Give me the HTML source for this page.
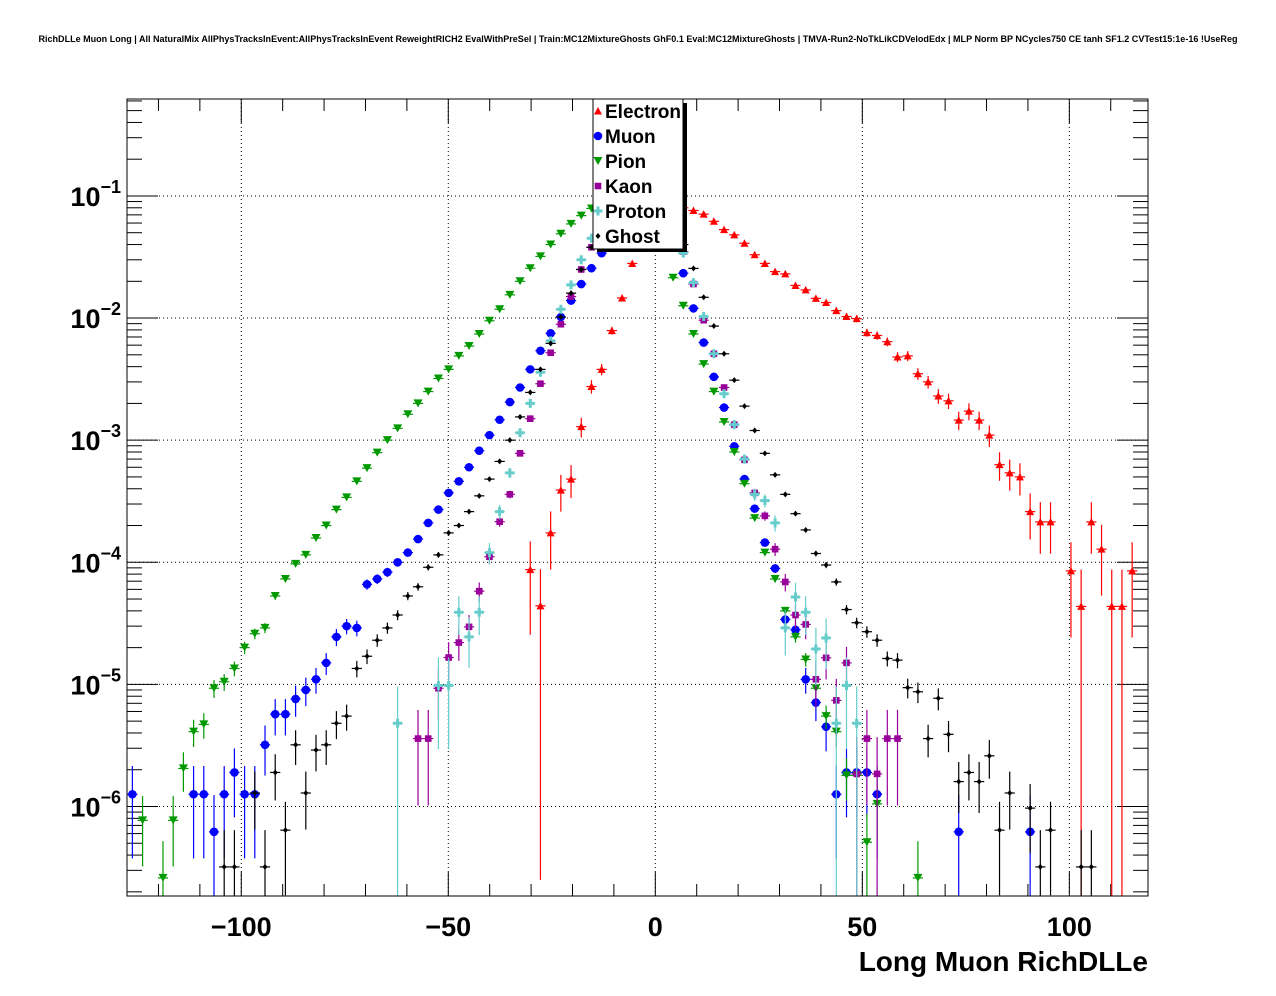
<!DOCTYPE html>
<html><head><meta charset="utf-8"><style>
html,body{margin:0;padding:0;background:#fff;}
svg{display:block;font-family:"Liberation Sans",Arial,sans-serif;}
</style></head><body>
<svg id="chart" width="1276" height="996" viewBox="0 0 1276 996" xmlns="http://www.w3.org/2000/svg">
<rect x="0" y="0" width="1276" height="996" fill="#fff"/>
<text x="638" y="42" text-anchor="middle" font-size="9" font-weight="bold" textLength="1199" lengthAdjust="spacingAndGlyphs">RichDLLe Muon Long | All NaturalMix AllPhysTracksInEvent:AllPhysTracksInEvent ReweightRICH2 EvalWithPreSel | Train:MC12MixtureGhosts GhF0.1 Eval:MC12MixtureGhosts | TMVA-Run2-NoTkLikCDVelodEdx | MLP Norm BP NCycles750 CE tanh SF1.2 CVTest15:1e-16 !UseReg</text>
<defs><clipPath id="plotclip"><rect x="127" y="99" width="1021" height="797"/></clipPath></defs>
<g id="grid"></g>
<g id="ticks"></g>
<g id="series" clip-path="url(#plotclip)"></g>
<rect x="127" y="99" width="1021" height="797" fill="none" stroke="#000" stroke-width="1"/>
<g id="labels"></g>
<text x="1148" y="971" text-anchor="end" font-size="28" font-weight="bold">Long Muon RichDLLe</text>
<g id="legend"></g>
</svg>
<script>
// ---- data ----
const xTickValues = [-100, -50, 0, 50, 100];
const xTickLabels = ["\u2212100", "\u221250", "0", "50", "100"];
const yDecades = [-1, -2, -3, -4, -5, -6];
const yTickLabels = ["\u22121", "\u22122", "\u22123", "\u22124", "\u22125", "\u22126"];
const seriesNames = ["Electron", "Muon", "Pion", "Kaon", "Proton", "Ghost"];
const seriesStartBins = [39, 0, 1, 28, 26, 9];
const seriesUnitWeights = [4.35e-5, 6.2e-7, 2.6e-7, 1.85e-6, 4.8e-6, 3.2e-7];
const electronValues = [8.7e-5,4.4e-5,1.74e-4,3.9e-4,4.8e-4,1.29e-3,2.75e-3,3.8e-3,7.9e-3,0.0146,0.028,0.06,0.09,0.1,0.09,0.08,0.076,0.071,0.062,0.053,0.048,0.041,0.033,0.028,0.024,0.023,0.0185,0.017,0.0145,0.0134,0.0115,0.0103,0.0099,0.0076,0.0072,0.0064,0.0048,0.0049,0.0035,0.003,0.0023,0.0021,0.00146,0.00173,0.00146,0.0011,6.3e-4,5.4e-4,5e-4,2.6e-4,2.14e-4,2.14e-4,null,8.5e-5,4.35e-5,2.14e-4,1.28e-4,4.35e-5,4.35e-5,8.5e-5];
const muonValues = [1.26e-6,null,null,null,null,null,1.26e-6,1.26e-6,6.2e-7,1.26e-6,1.9e-6,1.26e-6,1.26e-6,3.2e-6,5.7e-6,5.7e-6,7.6e-6,9.0e-6,1.1e-5,1.5e-5,2.45e-5,3.0e-5,2.9e-5,6.6e-5,7.3e-5,8.3e-5,1.0e-4,1.2e-4,1.55e-4,2.1e-4,2.7e-4,3.7e-4,4.6e-4,6.0e-4,8.2e-4,1.1e-3,1.47e-3,2.05e-3,2.7e-3,3.8e-3,5.4e-3,7.5e-3,0.0102,0.0139,0.019,0.0256,0.034,0.045,0.055,0.062,0.065,0.062,0.055,0.045,0.0233,0.012,0.0063,0.0033,0.00185,8.9e-4,4.8e-4,2.75e-4,1.45e-4,8.9e-5,3.4e-5,2.8e-5,1.1e-5,7.1e-6,4.5e-6,1.26e-6,1.9e-6,1.9e-6,1.9e-6,1.26e-6,null,null,null,null,null,null,null,6.2e-7,null,null,null,null,null,null,6.2e-7];
const pionValues = [7.7e-7,null,2.6e-7,7.7e-7,2.05e-6,4.1e-6,4.7e-6,9.3e-6,1.05e-5,1.35e-5,2.0e-5,2.6e-5,2.9e-5,5.3e-5,7.3e-5,9.7e-5,1.15e-4,1.58e-4,2.0e-4,2.7e-4,3.4e-4,4.6e-4,5.9e-4,7.9e-4,1.0e-3,1.25e-3,1.63e-3,2.0e-3,2.5e-3,3.2e-3,3.8e-3,4.9e-3,5.9e-3,7.4e-3,9.5e-3,0.0118,0.0155,0.020,0.0256,0.032,0.040,0.049,0.059,0.069,0.079,0.09,0.1,0.11,0.11,0.1,0.08,0.05,0.0214,0.0126,0.0074,0.0042,0.0025,0.00141,8.0e-4,4.4e-4,2.3e-4,1.2e-4,7.3e-5,4.0e-5,2.45e-5,1.6e-5,9.3e-6,5.5e-6,4.1e-6,1.8e-6,1.8e-6,5.1e-7,1.05e-6,null,null,null,2.6e-7];
const kaonValues = [3.6e-6,3.6e-6,9.3e-6,1.66e-5,2.2e-5,2.96e-5,5.8e-5,1.11e-4,2.15e-4,3.6e-4,7.8e-4,1.5e-3,2.9e-3,5.2e-3,8.9e-3,0.015,0.025,0.038,0.05,0.06,0.065,0.07,0.07,0.065,0.055,0.045,0.035,0.019,0.0096,0.0051,0.0027,0.00134,6.9e-4,3.7e-4,2.4e-4,1.28e-4,6.9e-5,3.7e-5,3.1e-5,1.1e-5,1.65e-5,7.4e-6,1.5e-5,1.85e-6,3.6e-6,1.85e-6,3.6e-6,3.6e-6];
const protonValues = [4.8e-6,null,null,null,9.8e-6,9.8e-6,3.9e-5,2.45e-5,3.9e-5,1.2e-4,2.6e-4,5.4e-4,1.15e-3,2.0e-3,3.6e-3,6.5e-3,0.0118,0.0187,0.030,0.045,0.055,0.065,0.07,0.075,0.075,0.07,0.06,0.05,0.034,0.0195,0.0103,0.0051,0.0024,0.00134,7e-4,3.6e-4,3.2e-4,2.1e-4,2.9e-5,5.2e-5,3.9e-5,1.95e-5,2.4e-5,4.8e-6,9.8e-6,4.8e-6];
const ghostValues = [3.2e-7,3.2e-7,null,1.29e-6,3.2e-7,1.9e-6,6.4e-7,3.2e-6,1.29e-6,2.9e-6,3.2e-6,4.8e-6,5.5e-6,1.35e-5,1.7e-5,2.3e-5,2.9e-5,3.7e-5,5.3e-5,6.3e-5,9.1e-5,1.15e-4,1.74e-4,2.0e-4,2.6e-4,3.5e-4,4.8e-4,6.7e-4,1.0e-3,1.55e-3,2.46e-3,3.8e-3,6.2e-3,0.0102,0.016,0.025,0.038,0.05,0.06,0.07,0.075,0.075,0.07,0.065,0.055,0.04,0.0255,0.0148,0.0086,0.0051,0.0031,0.0019,0.0012,7.8e-4,5.2e-4,3.6e-4,2.5e-4,1.84e-4,1.18e-4,9.5e-5,6.9e-5,4.1e-5,3.2e-5,2.7e-5,2.3e-5,1.63e-5,1.58e-5,9.4e-6,8.7e-6,3.6e-6,7.7e-6,3.9e-6,1.6e-6,1.9e-6,1.6e-6,2.6e-6,6.4e-7,1.29e-6,null,9.7e-7,3.2e-7,6.4e-7,null,null,3.2e-7,3.2e-7];
const allValues = [electronValues, muonValues, pionValues, kaonValues, protonValues, ghostValues];

// ---- layout ----
const NS = "http://www.w3.org/2000/svg";
const PL = 127, PR = 1148, PT = 99, PB = 896;
const XMIN = -127.6, XMAX = 119.0;
const BIN0 = -126.3, BINW = 2.464;
const Y_TOP_LOG = -0.206, Y_BOT_LOG = -6.733;
const colors = ["#ff0000", "#0000ff", "#009900", "#990099", "#66cccc", "#000000"];
const shapes = ["tri-up", "circle", "tri-down", "square", "cross", "diamond"];
function xs(v){ return PL + (v - XMIN) / (XMAX - XMIN) * (PR - PL); }
function ys(v){ const l = Math.log10(v); return PT + (Y_TOP_LOG - l) / (Y_TOP_LOG - Y_BOT_LOG) * (PB - PT); }
function mk(tag, attrs, parent){ const e = document.createElementNS(NS, tag); for (const k in attrs) e.setAttribute(k, attrs[k]); parent.appendChild(e); return e; }

const grid = document.getElementById("grid");
const ticks = document.getElementById("ticks");
const labels = document.getElementById("labels");
xTickValues.forEach((v, i) => {
  const X = xs(v);
  const g = mk("line", {x1:X, x2:X, y1:PT, y2:PB, stroke:"#000", "stroke-width":1, "stroke-dasharray":"1,3"}, grid);
  
  
  const t = mk("text", {x:X, y:936, "text-anchor":"middle", "font-size":27, "font-weight":"bold"}, labels);
  t.textContent = xTickLabels[i];
  
  
});
for (let v = -120; v <= 110; v += 10) {
  const X = xs(v); const major = (v % 50 === 0);
  const L = major ? 24 : 12;
  const a = mk("line", {x1:X, x2:X, y1:PB, y2:PB - L, stroke:"#000", "stroke-width":1}, ticks);
  
  
  const b = mk("line", {x1:X, x2:X, y1:PT, y2:PT + L, stroke:"#000", "stroke-width":1}, ticks);
  
  
}
yDecades.forEach((d, i) => {
  const Y = ys(Math.pow(10, d));
  const g = mk("line", {x1:PL, x2:PR, y1:Y, y2:Y, stroke:"#000", "stroke-width":1, "stroke-dasharray":"1,3"}, grid);
  
  
  const t = mk("text", {x:121, y:Y + 10, "text-anchor":"end", "font-size":27, "font-weight":"bold"}, labels);
  
  
  const s1 = mk("tspan", {}, t); s1.textContent = "10";
  const s2 = mk("tspan", {dy:-13, "font-size":18}, t); s2.textContent = yTickLabels[i];
});
for (let d = -7; d <= 0; d++) {
  for (let m = 1; m <= 9; m++) {
    const v = m * Math.pow(10, d);
    const l = Math.log10(v);
    if (l > Y_TOP_LOG || l < Y_BOT_LOG) continue;
    const Y = ys(v); const L = (m === 1) ? 31 : 15;
    const a = mk("line", {x1:PL, x2:PL + L, y1:Y, y2:Y, stroke:"#000", "stroke-width":1}, ticks);
    
    
    const b = mk("line", {x1:PR, x2:PR - L, y1:Y, y2:Y, stroke:"#000", "stroke-width":1}, ticks);
    
    
  }
}
function marker(parent, shape, cx, cy, col){
  let e;
  if (shape === "tri-up") e = mk("polygon", {points:`${cx-4},${cy+3.5} ${cx+4},${cy+3.5} ${cx},${cy-4}`, fill:col}, parent);
  else if (shape === "tri-down") e = mk("polygon", {points:`${cx-4.5},${cy-4} ${cx+4.5},${cy-4} ${cx},${cy+4}`, fill:col}, parent);
  else if (shape === "circle") e = mk("circle", {cx:cx, cy:cy, r:4.3, fill:col}, parent);
  else if (shape === "square") e = mk("rect", {x:cx-3.3, y:cy-3.3, width:6.6, height:6.6, fill:col}, parent);
  else if (shape === "cross") e = mk("path", {d:`M${cx-4.5},${cy-1.5}h3v-3h3v3h3v3h-3v3h-3v-3h-3z`, fill:col}, parent);
  else e = mk("polygon", {points:`${cx},${cy-3} ${cx+2.5},${cy} ${cx},${cy+3} ${cx-2.5},${cy}`, fill:col}, parent);
  return e;
}
const seriesLayer = document.getElementById("series");
allValues.forEach((vals, si) => {
  const g = mk("g", {}, seriesLayer);
  
  
  const col = colors[si];
  vals.forEach((v, k) => {
    if (v === null || v <= 0) return;
    const bin = seriesStartBins[si] + k;
    const c = BIN0 + BINW * bin;
    const X = xs(c), Y = ys(v);
    const n = v / seriesUnitWeights[si];
    const rel = 1 / Math.sqrt(Math.max(n, 1));
    const up = v * (1 + rel), lo = v * (1 - rel);
    const yUp = ys(up), yLo = lo > 0 ? ys(lo) : PB + 5;
    const pt = mk("g", {}, g);
    
    
    mk("line", {x1:X, x2:X, y1:yUp, y2:Math.min(yLo, PB + 5), stroke:col, "stroke-width":1.2}, pt);
    mk("line", {x1:xs(c - BINW/2), x2:xs(c + BINW/2), y1:Y, y2:Y, stroke:col, "stroke-width":1.2}, pt);
    marker(pt, shapes[si], X, Y, col);
  });
});
const leg = document.getElementById("legend");
const shadow1 = mk("rect", {x:683, y:103, width:4, height:149, fill:"#000"}, leg);


const shadow2 = mk("rect", {x:597, y:248, width:90, height:4, fill:"#000"}, leg);


const box = mk("rect", {x:593, y:99, width:90, height:150, fill:"#fff", stroke:"#000", "stroke-width":1}, leg);


seriesNames.forEach((name, i) => {
  const Y = 111 + 25 * i;
  const e = mk("g", {}, leg);
  
  
  marker(e, shapes[i], 598, Y, colors[i]);
  const t = mk("text", {x:605, y:Y + 7, "font-size":19, "font-weight":"bold"}, e);
  t.textContent = name;
});
</script>
</body></html>
